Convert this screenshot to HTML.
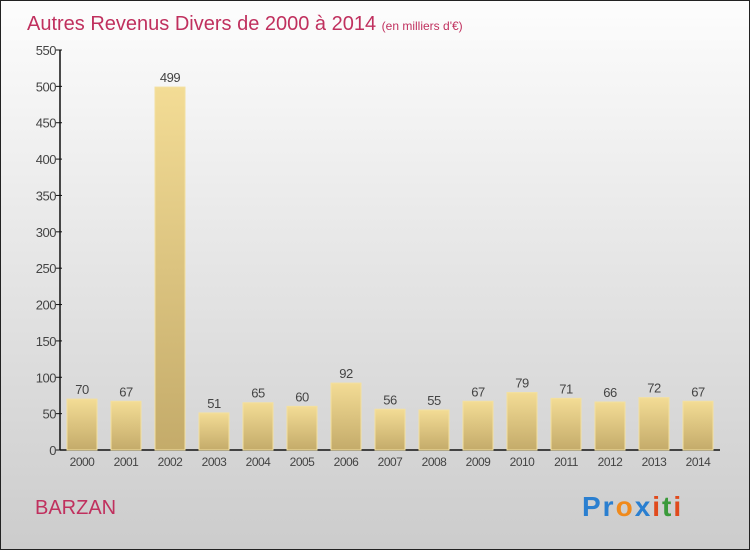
<!DOCTYPE html>
<html><head><meta charset="utf-8"><style>
body{margin:0}
#c{width:750px;height:550px;position:relative;font-family:"Liberation Sans",sans-serif;}
</style></head><body>
<div id="c">
<svg width="750" height="550" xmlns="http://www.w3.org/2000/svg">
<defs>
<linearGradient id="bg" x1="0" y1="0" x2="0" y2="1"><stop offset="0" stop-color="#fdfdfd"/><stop offset="1" stop-color="#cccccc"/></linearGradient>
<linearGradient id="bar" x1="0" y1="0" x2="0" y2="1"><stop offset="0" stop-color="#f3dc95"/><stop offset="1" stop-color="#c4ab6a"/></linearGradient>
</defs>
<rect x="0.5" y="0.5" width="749" height="549" fill="url(#bg)" stroke="#222"/>
<text x="27" y="30" font-size="20" fill="#c0305e">Autres Revenus Divers de 2000 à 2014 <tspan font-size="12">(en milliers d'€)</tspan></text>
<g id="axes"></g>
<g id="bars"></g>
<text x="35" y="514" font-size="20" fill="#c0305e">BARZAN</text>
<text x="582" y="516" font-size="28" font-weight="bold" letter-spacing="2"><tspan fill="#2a7fd0">Pr</tspan><tspan fill="#f08a1c">o</tspan><tspan fill="#2a7fd0">x</tspan><tspan fill="#e04a1c">i</tspan><tspan fill="#3a9a3a">t</tspan><tspan fill="#e04a1c">i</tspan></text>
</svg>
</div>
<script>
const years=["2000","2001","2002","2003","2004","2005","2006","2007","2008","2009","2010","2011","2012","2013","2014"];
const values=[70,67,499,51,65,60,92,56,55,67,79,71,66,72,67];
const yTicks=[0,50,100,150,200,250,300,350,400,450,500,550];
const NS="http://www.w3.org/2000/svg";
const y0=450,yTop=50,yMax=550,x0=60,firstX=67,step=44,bw=30;
const y=v=>y0-(v/yMax)*(y0-yTop);
const xB=i=>firstX+i*step;
function mk(t,a,p){const e=document.createElementNS(NS,t);for(const k in a)e.setAttribute(k,a[k]);p.appendChild(e);return e;}
const ax=document.getElementById('axes'),bg=document.getElementById('bars');
const yl=mk('line',{x1:x0,y1:yTop,x2:x0,y2:y0,stroke:'#111','stroke-width':1.5},ax);


const xl=mk('line',{x1:x0,y1:y0,x2:720,y2:y0,stroke:'#111','stroke-width':1.5},ax);


yTicks.forEach(v=>{
 mk('line',{x1:x0-4,y1:y(v),x2:x0+2,y2:y(v),stroke:'#111'},ax);
 const t=mk('text',{x:x0-4,y:y(v)+5,'font-size':13,fill:'#444','text-anchor':'end','letter-spacing':'-0.5'},ax);
 t.textContent=v;
 
 
});
years.forEach((yr,i)=>{
 const v=values[i];
 const r=mk('rect',{x:xB(i),y:y(v),width:bw,height:y0-y(v),fill:'url(#bar)',stroke:'#f3e0a0','stroke-width':1},bg);
 
 
 const l=mk('text',{x:xB(i)+bw/2,y:y(v)-5,'font-size':13,fill:'#444','text-anchor':'middle','letter-spacing':'-0.5'},bg);
 l.textContent=v;
 
 
 const xt=mk('text',{x:xB(i)+bw/2,y:y0+16,'font-size':12,fill:'#444','text-anchor':'middle','letter-spacing':'-0.5'},bg);
 xt.textContent=yr;
 
 
});
</script>
</body></html>
